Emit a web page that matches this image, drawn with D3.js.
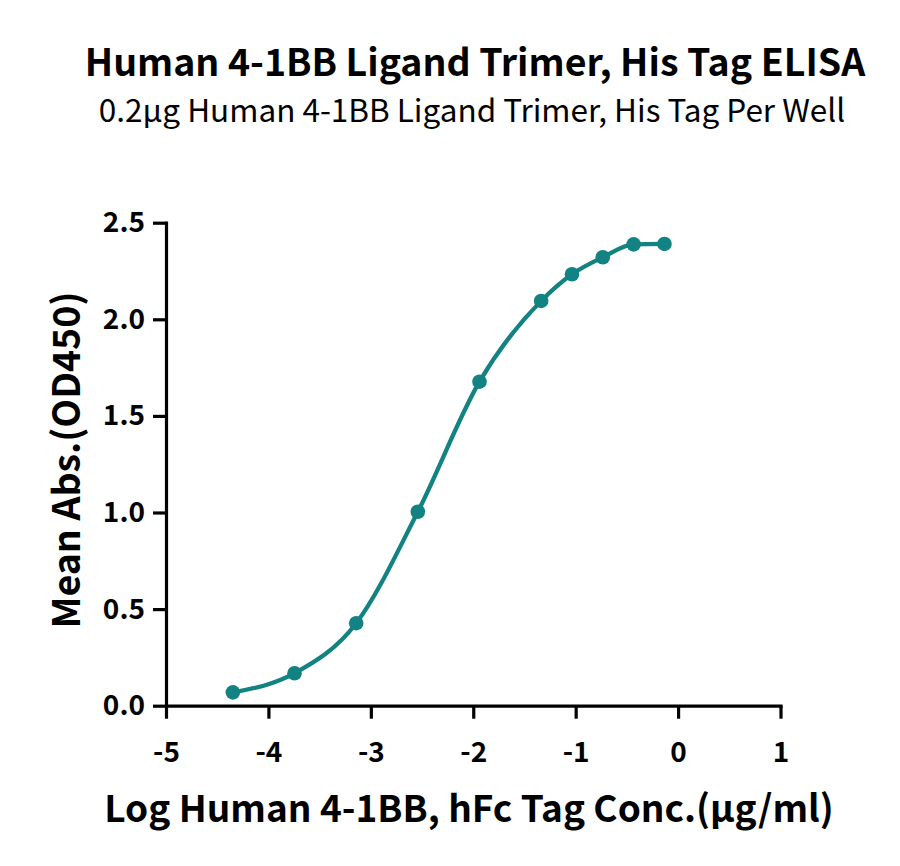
<!DOCTYPE html>
<html>
<head>
<meta charset="utf-8">
<script src="https://cdn.jsdelivr.net/npm/d3@7"></script>
<style>
    body { margin: 0; background: #fff; }
    svg { display: block; }
    text { font-family: "Noto Sans CJK SC", "Noto Sans", sans-serif; fill: #000; }
    .axis path, .axis line { stroke: #000; stroke-width: 3.2; }
    .axis text { font-size: 28px; font-weight: 700; }
</style>
</head>
<body>
<div id="chart"></div>
<script>
    // Chart data
    var titleText = "Human 4-1BB Ligand Trimer, His Tag ELISA";
    var subtitleText = "0.2\u00b5g Human 4-1BB Ligand Trimer, His Tag Per Well";
    var xLabel = "Log Human 4-1BB, hFc Tag Conc.(\u00b5g/ml)";
    var yLabel = "Mean Abs.(OD450)";

    var logConc = [-4.347, -3.745, -3.143, -2.541, -1.939, -1.337, -1.036, -0.735, -0.434, -0.133];
    var meanAbs = [0.069, 0.168, 0.427, 1.004, 1.677, 2.095, 2.233, 2.321, 2.388, 2.390];

    var xTicks = [-5, -4, -3, -2, -1, 0, 1];
    var yTicks = [0.0, 0.5, 1.0, 1.5, 2.0, 2.5];

    var color = "#128282";

    var width = 900, height = 866;

    var svg = d3.select("#chart").append("svg")
        .attr("width", width)
        .attr("height", height);

    var xScale = d3.scaleLinear().domain([-5, 1]).range([166, 780.5]);
    var yScale = d3.scaleLinear().domain([0, 2.5]).range([705.7, 222.7]);

    // Titles
    svg.append("text")
        .attr("x", 475).attr("y", 75.7)
        .attr("text-anchor", "middle")
        .style("font-size", "37.5px").style("font-weight", 700)
        .text(titleText);

    svg.append("text")
        .attr("x", 472).attr("y", 121.7)
        .attr("text-anchor", "middle")
        .style("font-size", "31.5px")
        .text(subtitleText);

    // Axes
    var xAxis = d3.axisBottom(xScale)
        .tickValues(xTicks)
        .tickSize(13).tickSizeOuter(0)
        .tickPadding(23)
        .tickFormat(function(d) { return String(d); });

    var yAxis = d3.axisLeft(yScale)
        .tickValues(yTicks)
        .tickSize(13).tickSizeOuter(0)
        .tickPadding(8)
        .tickFormat(d3.format(".1f"));

    svg.append("g").attr("class", "axis")
        .attr("transform", "translate(0," + yScale(0) + ")")
        .call(xAxis);

    svg.append("g").attr("class", "axis")
        .attr("transform", "translate(" + xScale(-5) + ",0)")
        .call(yAxis);

    svg.selectAll(".axis .domain").attr("stroke-linecap", "square");

    // Axis labels
    svg.append("text")
        .attr("x", 469).attr("y", 821.7)
        .attr("text-anchor", "middle")
        .style("font-size", "37px").style("font-weight", 700)
        .text(xLabel);

    svg.append("text")
        .attr("transform", "translate(80,460) rotate(-90)")
        .attr("text-anchor", "middle")
        .style("font-size", "37.5px").style("font-weight", 700)
        .text(yLabel);

    // Curve through the points
    var pts = logConc.map(function(d, i) { return [d, meanAbs[i]]; });

    var line = d3.line()
        .x(function(d) { return xScale(d[0]); })
        .y(function(d) { return yScale(d[1]); })
        .curve(d3.curveMonotoneX);

    svg.append("path")
        .datum(pts)
        .attr("fill", "none")
        .attr("stroke", color)
        .attr("stroke-width", 4.3)
        .attr("d", line);

    svg.selectAll(".dot")
        .data(pts)
        .enter().append("circle")
        .attr("class", "dot")
        .attr("cx", function(d) { return xScale(d[0]); })
        .attr("cy", function(d) { return yScale(d[1]); })
        .attr("r", 7.3)
        .attr("fill", color);
</script>
</body>
</html>
